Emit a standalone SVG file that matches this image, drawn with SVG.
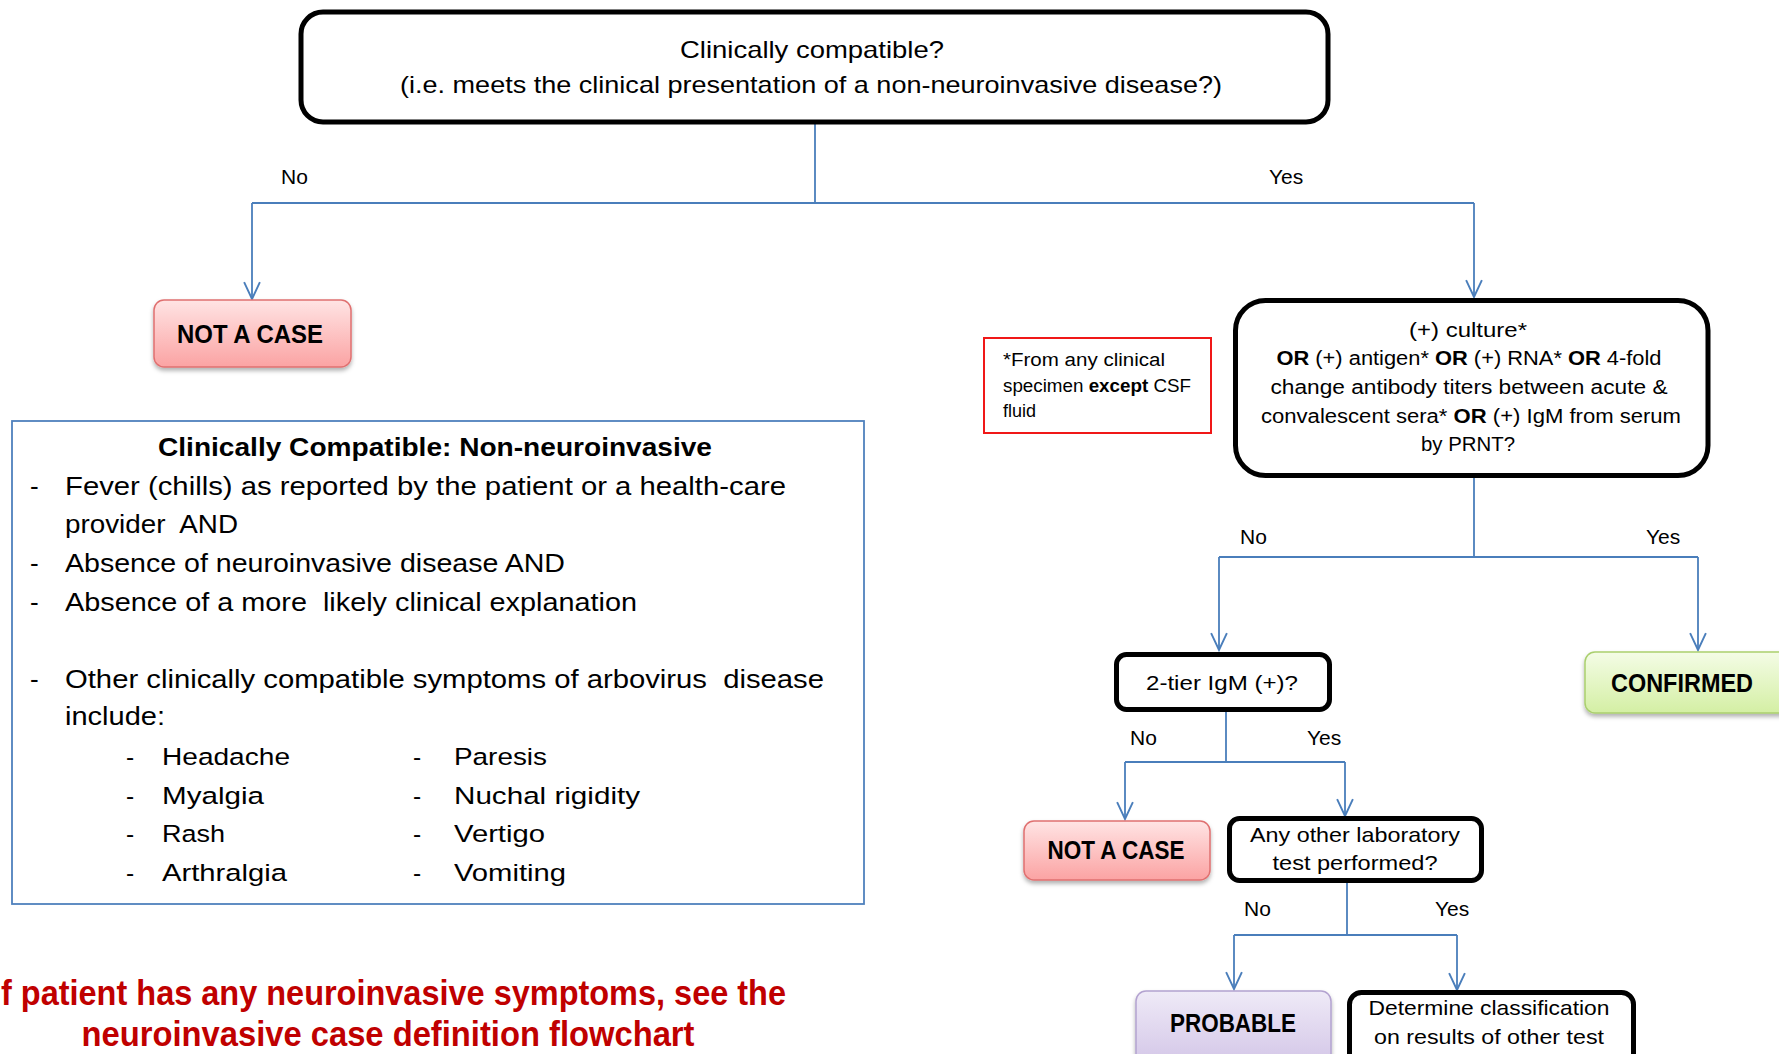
<svg xmlns="http://www.w3.org/2000/svg" width="1779" height="1054" viewBox="0 0 1779 1054">
<style>
text{font-family:"Liberation Sans",Arial,sans-serif;fill:#000}
.q{fill:#fff;stroke:#000;stroke-width:5}
.t25{font-size:24px}
.lbl{font-size:21px}
.body{font-size:26px}
.sub{font-size:24.5px}
.cb{font-size:20px}
.fn{font-size:18px}
.q21{font-size:21px}
.res{font-size:25px;font-weight:bold}
.red{font-size:35px;font-weight:bold;fill:#C00000}
.b{font-weight:bold}
.conn path{fill:none;stroke:#4A7EBB;stroke-width:1.8}
</style>
<defs>
<marker id="arr" markerUnits="userSpaceOnUse" markerWidth="20" markerHeight="20" viewBox="-17 -9 19 18" refX="0" refY="0" orient="auto" overflow="visible">
<path d="M-16,-7.5 L0,0 L-16,7.5" fill="none" stroke="#4A7EBB" stroke-width="1.8"/>
</marker>
<linearGradient id="gRed" x1="0" y1="0" x2="0" y2="1"><stop offset="0" stop-color="#FFE4E4"/><stop offset="1" stop-color="#FBA3A3"/></linearGradient>
<linearGradient id="gGreen" x1="0" y1="0" x2="0" y2="1"><stop offset="0" stop-color="#F4FCE6"/><stop offset="1" stop-color="#D4EFA4"/></linearGradient>
<linearGradient id="gPurple" x1="0" y1="0" x2="0" y2="1"><stop offset="0" stop-color="#EFEAF7"/><stop offset="1" stop-color="#CDBEE4"/></linearGradient>
<filter id="sh" x="-10%" y="-10%" width="120%" height="140%"><feDropShadow dx="0" dy="3" stdDeviation="2" flood-color="#000" flood-opacity="0.3"/></filter>
</defs>
<rect width="1779" height="1054" fill="#fff"/>

<g id="connectors" class="conn">
<path d="M815,122 V203"/>
<path d="M252,203 H1474"/>
<path d="M252,203 V299" marker-end="url(#arr)"/>
<path d="M1474,203 V297" marker-end="url(#arr)"/>
<path d="M1474,478 V557"/>
<path d="M1219,557 H1698"/>
<path d="M1219,557 V650" marker-end="url(#arr)"/>
<path d="M1698,557 V650" marker-end="url(#arr)"/>
<path d="M1226,712 V762"/>
<path d="M1125,762 H1345"/>
<path d="M1125,762 V819" marker-end="url(#arr)"/>
<path d="M1345,762 V816" marker-end="url(#arr)"/>
<path d="M1347,883 V935"/>
<path d="M1234,935 H1457"/>
<path d="M1234,935 V989" marker-end="url(#arr)"/>
<path d="M1457,935 V990" marker-end="url(#arr)"/>
</g>

<g id="edge-labels">
<text class="lbl" x="281" y="184">No</text>
<text class="lbl" x="1269" y="184">Yes</text>
<text class="lbl" x="1240" y="544">No</text>
<text class="lbl" x="1646" y="544">Yes</text>
<text class="lbl" x="1130" y="745">No</text>
<text class="lbl" x="1307" y="745">Yes</text>
<text class="lbl" x="1244" y="916">No</text>
<text class="lbl" x="1435" y="916">Yes</text>
</g>

<g id="clinically-compatible">
<rect class="q" x="301" y="12" width="1027" height="110" rx="22"/>
<text class="t25" x="812" y="58" text-anchor="middle" textLength="264" lengthAdjust="spacingAndGlyphs">Clinically compatible?</text>
<text class="t25" x="811" y="93" text-anchor="middle" textLength="822" lengthAdjust="spacingAndGlyphs">(i.e. meets the clinical presentation of a non-neuroinvasive disease?)</text>
</g>

<g id="not-a-case-1">
<rect x="154" y="300" width="197" height="67" rx="10" fill="url(#gRed)" stroke="#E07070" stroke-width="1.5" filter="url(#sh)"/>
<text class="res" x="250" y="343" text-anchor="middle" textLength="146" lengthAdjust="spacingAndGlyphs">NOT A CASE</text>
</g>

<g id="definition-box">
<rect x="12" y="421" width="852" height="483" fill="#fff" stroke="#4F81BD" stroke-width="1.8"/>
<text class="body b" x="435" y="456" text-anchor="middle" textLength="554" lengthAdjust="spacingAndGlyphs">Clinically Compatible: Non-neuroinvasive</text>
<text class="body" x="30" y="495">-</text>
<text class="body" x="65" y="495" textLength="721" lengthAdjust="spacingAndGlyphs">Fever (chills) as reported by the patient or a health-care</text>
<text class="body" x="65" y="533" textLength="173" lengthAdjust="spacingAndGlyphs" style="white-space:pre">provider  AND</text>
<text class="body" x="30" y="572">-</text>
<text class="body" x="65" y="572" textLength="500" lengthAdjust="spacingAndGlyphs">Absence of neuroinvasive disease AND</text>
<text class="body" x="30" y="611">-</text>
<text class="body" x="65" y="611" textLength="572" lengthAdjust="spacingAndGlyphs" style="white-space:pre">Absence of a more  likely clinical explanation</text>
<text class="body" x="30" y="688">-</text>
<text class="body" x="65" y="688" textLength="759" lengthAdjust="spacingAndGlyphs" style="white-space:pre">Other clinically compatible symptoms of arbovirus  disease</text>
<text class="body" x="65" y="725" textLength="100" lengthAdjust="spacingAndGlyphs">include:</text>
<text class="sub" x="126" y="765">-</text>
<text class="sub" x="162" y="765" textLength="128" lengthAdjust="spacingAndGlyphs">Headache</text>
<text class="sub" x="126" y="804">-</text>
<text class="sub" x="162" y="804" textLength="102" lengthAdjust="spacingAndGlyphs">Myalgia</text>
<text class="sub" x="126" y="842">-</text>
<text class="sub" x="162" y="842" textLength="63" lengthAdjust="spacingAndGlyphs">Rash</text>
<text class="sub" x="126" y="881">-</text>
<text class="sub" x="162" y="881" textLength="125" lengthAdjust="spacingAndGlyphs">Arthralgia</text>
<text class="sub" x="413" y="765">-</text>
<text class="sub" x="454" y="765" textLength="93" lengthAdjust="spacingAndGlyphs">Paresis</text>
<text class="sub" x="413" y="804">-</text>
<text class="sub" x="454" y="804" textLength="186" lengthAdjust="spacingAndGlyphs">Nuchal rigidity</text>
<text class="sub" x="413" y="842">-</text>
<text class="sub" x="454" y="842" textLength="91" lengthAdjust="spacingAndGlyphs">Vertigo</text>
<text class="sub" x="413" y="881">-</text>
<text class="sub" x="454" y="881" textLength="112" lengthAdjust="spacingAndGlyphs">Vomiting</text>
</g>

<g id="neuroinvasive-note">
<text class="red" x="1" y="1005" textLength="785" lengthAdjust="spacingAndGlyphs">f patient has any neuroinvasive symptoms, see the</text>
<text class="red" x="388" y="1046" text-anchor="middle" textLength="613" lengthAdjust="spacingAndGlyphs">neuroinvasive case definition flowchart</text>
</g>

<g id="footnote">
<rect x="984" y="338" width="227" height="95" fill="#fff" stroke="#F01818" stroke-width="2"/>
<text class="fn" x="1003" y="366" textLength="162" lengthAdjust="spacingAndGlyphs">*From any clinical</text>
<text class="fn" x="1003" y="392" textLength="188" lengthAdjust="spacingAndGlyphs">specimen <tspan class="b">except</tspan> CSF</text>
<text class="fn" x="1003" y="417">fluid</text>
</g>

<g id="lab-criteria">
<rect class="q" x="1235.5" y="300.5" width="472.5" height="175" rx="30"/>
<text class="cb" x="1468" y="337" text-anchor="middle" textLength="118" lengthAdjust="spacingAndGlyphs">(+) culture*</text>
<text class="cb" x="1469" y="365" text-anchor="middle" textLength="385" lengthAdjust="spacingAndGlyphs"><tspan class="b">OR</tspan> (+) antigen* <tspan class="b">OR</tspan> (+) RNA* <tspan class="b">OR</tspan> 4-fold</text>
<text class="cb" x="1469" y="394" text-anchor="middle" textLength="397" lengthAdjust="spacingAndGlyphs">change antibody titers between acute &amp;</text>
<text class="cb" x="1471" y="423" text-anchor="middle" textLength="420" lengthAdjust="spacingAndGlyphs">convalescent sera* <tspan class="b">OR</tspan> (+) IgM from serum</text>
<text class="cb" x="1468" y="451" text-anchor="middle" textLength="94" lengthAdjust="spacingAndGlyphs">by PRNT?</text>
</g>

<g id="confirmed">
<rect x="1585" y="652" width="220" height="61" rx="10" fill="url(#gGreen)" stroke="#AACF6E" stroke-width="1.5" filter="url(#sh)"/>
<text class="res" x="1682" y="692" text-anchor="middle" textLength="142" lengthAdjust="spacingAndGlyphs">CONFIRMED</text>
</g>

<g id="two-tier-igm">
<rect class="q" x="1116.5" y="654.5" width="213" height="55" rx="10"/>
<text class="q21" x="1222" y="690" text-anchor="middle" textLength="152" lengthAdjust="spacingAndGlyphs">2-tier IgM (+)?</text>
</g>

<g id="not-a-case-2">
<rect x="1024" y="821" width="186" height="59" rx="10" fill="url(#gRed)" stroke="#E07070" stroke-width="1.5" filter="url(#sh)"/>
<text class="res" x="1116" y="859" text-anchor="middle" textLength="137" lengthAdjust="spacingAndGlyphs">NOT A CASE</text>
</g>

<g id="other-lab-test">
<rect class="q" x="1229.5" y="818.5" width="252" height="62" rx="10"/>
<text class="q21" x="1355" y="842" text-anchor="middle" textLength="210" lengthAdjust="spacingAndGlyphs">Any other laboratory</text>
<text class="q21" x="1355" y="870" text-anchor="middle" textLength="165" lengthAdjust="spacingAndGlyphs">test performed?</text>
</g>

<g id="probable">
<rect x="1136" y="991" width="195" height="90" rx="10" fill="url(#gPurple)" stroke="#B3A2D0" stroke-width="1.5" filter="url(#sh)"/>
<text class="res" x="1233" y="1032" text-anchor="middle" textLength="126" lengthAdjust="spacingAndGlyphs">PROBABLE</text>
</g>

<g id="determine">
<rect class="q" x="1349.5" y="992.5" width="284" height="80" rx="12"/>
<text class="q21" x="1489" y="1015" text-anchor="middle" textLength="241" lengthAdjust="spacingAndGlyphs">Determine classification</text>
<text class="q21" x="1489" y="1044" text-anchor="middle" textLength="230" lengthAdjust="spacingAndGlyphs">on results of other test</text>
</g>
</svg>
